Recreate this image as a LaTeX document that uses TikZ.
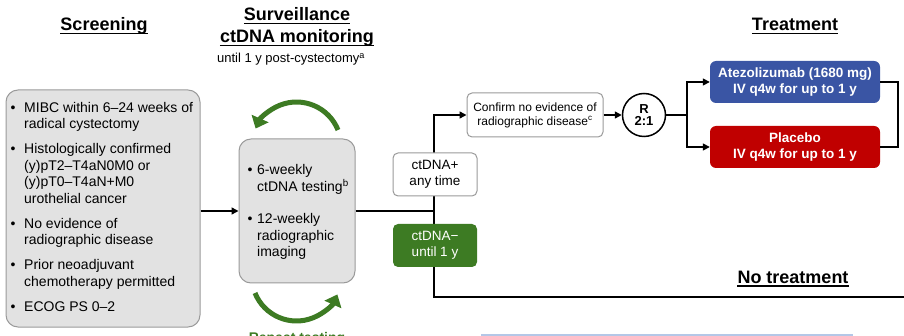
\documentclass[tikz,border=0pt]{standalone}
\usepackage{fontspec}
\setmainfont{Liberation Sans}
\usetikzlibrary{arrows.meta}
\definecolor{grn}{HTML}{3D7B23}
\definecolor{blu}{HTML}{3A55A4}
\definecolor{rd}{HTML}{C00000}
\definecolor{gfill}{HTML}{E2E2E2}
\definecolor{gline}{HTML}{9A9A9A}
\definecolor{lblue}{HTML}{B4C7E7}
\begin{document}
\begin{tikzpicture}[x=1pt,y=-1pt,
  hdr/.style={font=\fontsize{18}{21}\selectfont\bfseries, inner sep=0pt, anchor=base},
  body/.style={font=\fontsize{14}{16.5}\selectfont, inner sep=0pt, anchor=base west},
  bul/.style={font=\fontsize{14}{16.5}\selectfont, inner sep=0pt, anchor=base},
  conn/.style={line width=1.5pt},
  arr/.style={conn, -{Triangle[length=7pt,width=7pt]}},
  uline/.style={line width=1.3pt},
  graybox/.style={draw=gline, fill=gfill, line width=1pt, rounded corners=12pt, inner sep=0pt},
  whitebox/.style={draw=gline, fill=white, line width=1pt, rounded corners=5pt, align=center, inner sep=0pt},
  greenbox/.style={fill=grn, text=white, rounded corners=5pt, align=center, inner sep=0pt},
  armbox/.style={text=white, rounded corners=6pt, align=center, inner sep=0pt,
    minimum width=170pt, minimum height=42pt, font=\fontsize{13.5}{16.5}\selectfont\bfseries},
  loop/.style={draw=grn, line width=5pt, -{Triangle[length=11pt,width=18pt]}}
]
\useasboundingbox (0,0) rectangle (904,336);
\clip (0,0) rectangle (904,336);

% headers
\node[hdr] (hscr) at (104,31) {Screening};
\draw[uline] ([yshift=-2.5pt]hscr.base west) -- ([yshift=-2.5pt]hscr.base east);
\node[hdr] (hsur1) at (297,21) {Surveillance};
\draw[uline] ([yshift=-2.5pt]hsur1.base west) -- ([yshift=-2.5pt]hsur1.base east);
\node[hdr] (hsur2) at (297,43) {ctDNA monitoring};
\draw[uline] ([yshift=-2.5pt]hsur2.base west) -- ([yshift=-2.5pt]hsur2.base east);
\node[inner sep=0pt, anchor=base, font=\fontsize{13}{15}\selectfont] (until) at (291,63) {until 1 y post-cystectomy\textsuperscript{a}};
\node[hdr] (htrt) at (795,31) {Treatment};
\draw[uline] ([yshift=-2.5pt]htrt.base west) -- ([yshift=-2.5pt]htrt.base east);
\node[hdr] (hno) at (793,283.5) {No treatment};
\draw[uline] ([yshift=-2.5pt]hno.base west) -- ([yshift=-2.5pt]hno.base east);

% screening box
\node[graybox, minimum width=194pt, minimum height=237pt] (scr) at (103,208.5) {};
\node[bul] (b1) at (13,112.5) {•};
\node[body] (s1) at (24,112.5) {MIBC within 6–24 weeks of};
\node[body] (s2) at (24,129) {radical cystectomy};
\node[bul] (b2) at (13,153.9) {•};
\node[body] (s3) at (24,153.9) {Histologically confirmed};
\node[body] (s4) at (24,170.4) {(y)pT2–T4aN0M0 or};
\node[body] (s5) at (24,186.9) {(y)pT0–T4aN+M0};
\node[body] (s6) at (24,203.4) {urothelial cancer};
\node[bul] (b3) at (13,228.3) {•};
\node[body] (s7) at (24,228.3) {No evidence of};
\node[body] (s8) at (24,244.8) {radiographic disease};
\node[bul] (b4) at (13,269.7) {•};
\node[body] (s9) at (24,269.7) {Prior neoadjuvant};
\node[body] (s10) at (24,286.2) {chemotherapy permitted};
\node[bul] (b5) at (13,311.1) {•};
\node[body] (s11) at (24,311.1) {ECOG PS 0–2};

% surveillance box
\node[graybox, minimum width=116pt, minimum height=144pt] (mid) at (297,211) {};
\node[bul] (m1b) at (250,175) {•};
\node[body] (m1) at (257,175) {6-weekly};
\node[body] (m2) at (257,191.5) {ctDNA testing\textsuperscript{b}};
\node[bul] (m3b) at (250,224) {•};
\node[body] (m3) at (257,224) {12-weekly};
\node[body] (m4) at (257,240.5) {radiographic};
\node[body] (m5) at (257,257) {imaging};

% green loop arrows
\draw[loop] (338,130) arc[start angle=-22, end angle=-156, radius=44.75];
\draw[loop] (255,293) arc[start angle=158, end angle=24, radius=44.75];
\node[inner sep=0pt, anchor=base, text=grn, font=\fontsize{14}{16}\selectfont\bfseries] (rep) at (297,342) {Repeat testing};

% connectors
\coordinate (j) at (434,211);
\coordinate (nt) at (904,297);
\node[whitebox, minimum width=136pt, minimum height=44pt, font=\fontsize{12}{14}\selectfont] (conf) at (535,115) {Confirm no evidence of\\radiographic disease\textsuperscript{c}};
\node[draw, circle, line width=1.5pt, minimum size=43pt, inner sep=0pt, align=center, font=\fontsize{13}{12}\selectfont\bfseries] (rnd) at (644,115) {R\\2:1};
\node[armbox, fill=blu] (atz) at (795,82) {Atezolizumab (1680 mg)\\IV q4w for up to 1 y};
\node[armbox, fill=rd] (plc) at (795,147) {Placebo\\IV q4w for up to 1 y};
\coordinate (rj) at (687,115);
\coordinate (rb) at (898,82);

\draw[arr] (scr.east |- mid.west) -- (mid.west);
\draw[conn] (mid.east) -- (j);
\draw[arr] (j) |- (conf.west);
\draw[conn] (j) |- (nt);
\draw[arr] (conf.east) -- (rnd.west);
\draw[conn] (rnd.east) -- (rj);
\draw[arr] (rj) |- (atz.west);
\draw[arr] (rj) |- (plc.west);
\draw[conn] (atz.east) -- (rb) |- (plc.east);

\node[whitebox, minimum width=84pt, minimum height=43pt, font=\fontsize{13.5}{15.5}\selectfont] (pos) at (435,174.5) {ctDNA+\\any time};
\node[greenbox, minimum width=84pt, minimum height=43pt, font=\fontsize{13.5}{15.5}\selectfont] (neg) at (435,245.5) {ctDNA−\\until 1 y};

% light blue edge at bottom
\coordinate (lb1) at (481,335);
\coordinate (lb2) at (853,335);
\draw[draw=lblue, line width=1.5pt] (lb1) -- (lb2);
\end{tikzpicture}
\end{document}
